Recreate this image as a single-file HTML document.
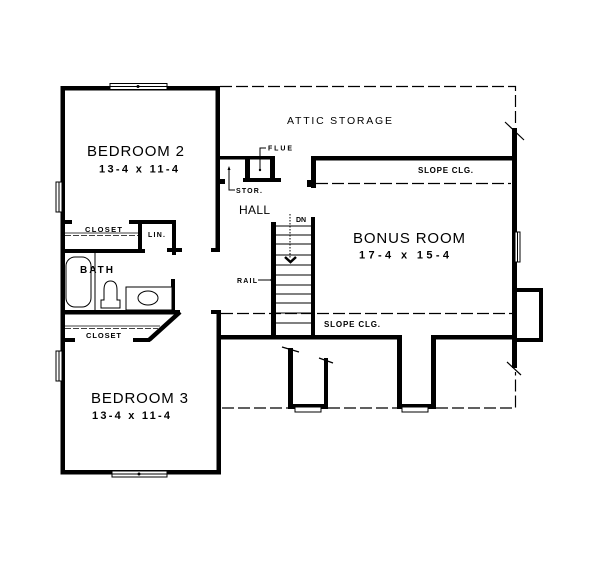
<!DOCTYPE html>
<html><head><meta charset="utf-8"><style>
html,body{margin:0;padding:0;background:#fff;}
svg{display:block;}
text{font-family:"Liberation Sans",Arial,sans-serif;fill:#000;}
</style></head><body>
<svg width="600" height="567" viewBox="0 0 600 567" xmlns="http://www.w3.org/2000/svg">
<rect width="600" height="567" fill="#fff"/>

<!-- dashed attic / slope lines -->
<g fill="none" stroke="#000" stroke-width="1.2" stroke-dasharray="12 4">
  <path d="M220 86.5 H515.5 V127"/>
  <path d="M316 183.5 H511"/>
  <path d="M221 313.5 H512"/>
  <path d="M222 408 H288 M328 408 H397 M436 408 H515.5 V372"/>
</g>

<!-- walls -->
<g fill="#000">
  <rect x="61" y="86" width="159" height="4.5"/>
  <rect x="60.5" y="86" width="4.5" height="388.5"/>
  <rect x="60.5" y="470" width="160.5" height="4.5"/>
  <rect x="215.5" y="86" width="4.5" height="166"/>
  <rect x="211" y="248" width="9" height="4"/>
  <rect x="220" y="179" width="5" height="5"/>
  <rect x="216.5" y="310" width="4.5" height="164.5"/>
  <rect x="211" y="310" width="10" height="4"/>
  <!-- bedroom 2 closet / lin -->
  <rect x="61" y="220" width="11" height="4"/>
  <rect x="129" y="220" width="47" height="4"/>
  <rect x="138" y="220" width="4" height="32"/>
  <rect x="172" y="220" width="4" height="35"/>
  <rect x="61" y="249" width="84" height="4"/>
  <rect x="167" y="248" width="15" height="4"/>
  <!-- bath -->
  <rect x="171" y="279" width="4" height="33"/>
  <rect x="61" y="310" width="119" height="4.5"/>
  <rect x="133" y="338" width="17" height="4"/>
  <rect x="61" y="338" width="14" height="4"/>
  <!-- hall / attic -->
  <rect x="216" y="156" width="59" height="3.5"/>
  <rect x="245" y="156" width="5" height="26"/>
  <rect x="270" y="156" width="5" height="26"/>
  <rect x="243" y="178" width="38" height="4"/>
  <!-- bonus room -->
  <rect x="311" y="156" width="206" height="4.5"/>
  <rect x="311" y="156" width="5" height="32"/>
  <rect x="307" y="180" width="4" height="7"/>
  <rect x="512" y="128" width="5" height="240"/>
  <rect x="512" y="288" width="31" height="4"/>
  <rect x="539" y="288" width="4" height="54"/>
  <rect x="512" y="338" width="31" height="4"/>
  <!-- lower walls -->
  <rect x="217" y="335" width="185" height="4.5"/>
  <rect x="397" y="335" width="5" height="74"/>
  <rect x="397" y="404" width="39" height="5"/>
  <rect x="431" y="335" width="5" height="74"/>
  <rect x="431" y="335" width="86" height="4.5"/>
  <rect x="288" y="348" width="5" height="61"/>
  <rect x="324" y="358" width="4" height="51"/>
  <rect x="288" y="404" width="40" height="5"/>
  <!-- stair -->
  <rect x="271" y="222" width="5" height="117"/>
  <rect x="311" y="217" width="4" height="122"/>
</g>
<line x1="180" y1="312" x2="149" y2="340" stroke="#000" stroke-width="4.5"/>

<!-- stair treads -->
<g stroke="#000" stroke-width="1">
  <line x1="276" y1="226" x2="311" y2="226"/>
  <line x1="276" y1="235" x2="311" y2="235"/>
  <line x1="276" y1="244" x2="311" y2="244"/>
  <line x1="276" y1="255" x2="311" y2="255"/>
  <line x1="276" y1="265" x2="311" y2="265"/>
  <line x1="276" y1="275" x2="311" y2="275"/>
  <line x1="276" y1="285" x2="311" y2="285"/>
  <line x1="276" y1="294" x2="311" y2="294"/>
  <line x1="276" y1="303" x2="311" y2="303"/>
  <line x1="276" y1="313" x2="311" y2="313"/>
  <line x1="276" y1="323" x2="311" y2="323"/>
</g>

<!-- closet shelves -->
<g stroke="#000" stroke-width="0.8" fill="none">
  <line x1="65" y1="233" x2="138" y2="233"/>
  <line x1="65" y1="235.5" x2="138" y2="235.5" stroke-dasharray="6 2"/>
  <line x1="65" y1="326" x2="160" y2="326"/>
  <line x1="65" y1="328.5" x2="158" y2="328.5" stroke-dasharray="6 2"/>
</g>

<!-- bath fixtures -->
<g stroke="#000" stroke-width="1" fill="#fff">
  <rect x="66" y="257" width="25" height="50" rx="9" ry="9"/>
  <line x1="95" y1="253" x2="95" y2="310"/>
  <path d="M104 300 L104 290 Q104 281 110.5 281 Q117 281 117 290 L117 300 L120 300 L120 308 L101 308 L101 300 Z"/>
  <rect x="126" y="287" width="46" height="23"/>
  <ellipse cx="148" cy="298" rx="10" ry="7"/>
</g>

<!-- windows -->
<g stroke="#000" stroke-width="1" fill="#fff">
  <rect x="110" y="83.5" width="57" height="6"/>
  <line x1="110" y1="86.5" x2="167" y2="86.5"/>
  <rect x="112" y="471" width="55" height="6"/>
  <line x1="112" y1="474" x2="167" y2="474"/>
  <rect x="56" y="182" width="6" height="30"/>
  <line x1="59" y1="182" x2="59" y2="212"/>
  <rect x="56" y="351" width="6" height="30"/>
  <line x1="59" y1="351" x2="59" y2="381"/>
  <rect x="515" y="232" width="5" height="30"/>
  <line x1="517.5" y1="232" x2="517.5" y2="262"/>
  <rect x="295" y="407" width="26" height="5"/>
  <rect x="402" y="407" width="26" height="5"/>
</g>
<circle cx="138" cy="86.5" r="1.5" fill="#000"/>
<circle cx="139" cy="474" r="1.5" fill="#000"/>

<!-- ticks -->
<g stroke="#000" stroke-width="1.2">
  <line x1="505" y1="122" x2="524" y2="140"/>
  <line x1="282" y1="347" x2="299" y2="352"/>
  <line x1="319" y1="358" x2="333" y2="363"/>
  <line x1="507" y1="362" x2="521" y2="375"/>
</g>

<!-- leaders & arrow -->
<g stroke="#000" stroke-width="1" fill="none">
  <path d="M260 170 V148 H266"/>
  <path d="M229 168 V190 H235"/>
  <path d="M258 280 H271"/>
  <line x1="290" y1="214" x2="290" y2="258" stroke-dasharray="1.5 1.5"/>
  <path d="M285 257 L290.5 262 L296 257" stroke-width="2.5"/>
</g>
<circle cx="260" cy="170" r="1.2" fill="#000"/>
<circle cx="272" cy="280" r="1.5" fill="#000"/>
<path d="M227.5 170 L229 166 L230.5 170 Z" fill="#000"/>

<!-- labels -->
<text x="87" y="156" font-size="15" textLength="97" lengthAdjust="spacing">BEDROOM 2</text>
<text x="99" y="172.5" font-size="11" font-weight="bold" textLength="79" lengthAdjust="spacing">13-4 x 11-4</text>
<text x="91" y="403" font-size="15" textLength="97" lengthAdjust="spacing">BEDROOM 3</text>
<text x="92" y="419" font-size="11" font-weight="bold" textLength="78" lengthAdjust="spacing">13-4 x 11-4</text>
<text x="353" y="243" font-size="15" textLength="112" lengthAdjust="spacing">BONUS ROOM</text>
<text x="359" y="258.5" font-size="11" font-weight="bold" textLength="90" lengthAdjust="spacing">17-4 x 15-4</text>
<text x="287" y="124" font-size="10.5" textLength="105" lengthAdjust="spacing">ATTIC STORAGE</text>
<text x="239" y="214" font-size="12" textLength="31" lengthAdjust="spacing">HALL</text>
<text x="80" y="273" font-size="10" font-weight="bold" textLength="33" lengthAdjust="spacing">BATH</text>
<text x="418" y="173" font-size="8" font-weight="bold" textLength="55" lengthAdjust="spacing">SLOPE CLG.</text>
<text x="324" y="327" font-size="8" font-weight="bold" textLength="56" lengthAdjust="spacing">SLOPE CLG.</text>
<text x="85" y="232" font-size="7.5" font-weight="bold" textLength="37" lengthAdjust="spacing">CLOSET</text>
<text x="86" y="338" font-size="7.5" font-weight="bold" textLength="35" lengthAdjust="spacing">CLOSET</text>
<text x="148" y="237" font-size="7" font-weight="bold" textLength="17" lengthAdjust="spacing">LIN.</text>
<text x="268" y="150.5" font-size="7" font-weight="bold" textLength="24" lengthAdjust="spacing">FLUE</text>
<text x="236" y="193" font-size="7" font-weight="bold" textLength="26" lengthAdjust="spacing">STOR.</text>
<text x="296" y="222" font-size="7" font-weight="bold" textLength="10" lengthAdjust="spacing">DN</text>
<text x="237" y="283" font-size="7" font-weight="bold" textLength="20" lengthAdjust="spacing">RAIL</text>
</svg>
</body></html>
